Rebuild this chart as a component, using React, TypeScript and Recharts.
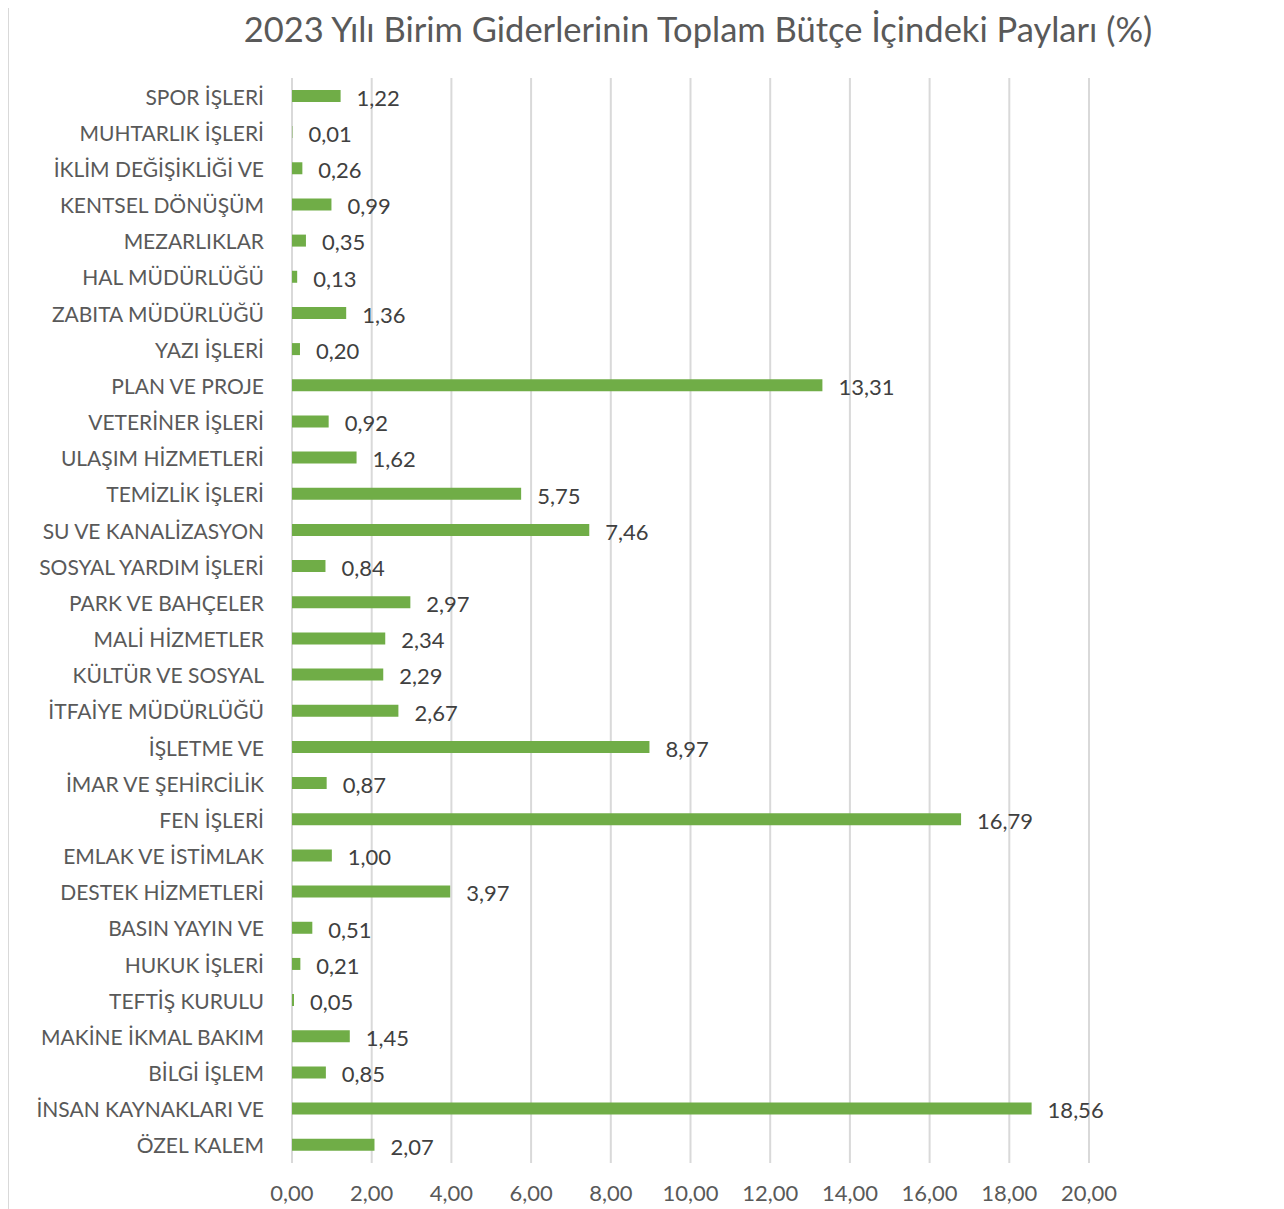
import React from "react";
import {
  BarChart, Bar, XAxis, YAxis, CartesianGrid, LabelList,
} from "recharts";

const title = "2023 Yılı Birim Giderlerinin Toplam Bütçe İçindeki Payları (%)";

const birimler = [
  "SPOR İŞLERİ",
  "MUHTARLIK İŞLERİ",
  "İKLİM DEĞİŞİKLİĞİ VE",
  "KENTSEL DÖNÜŞÜM",
  "MEZARLIKLAR",
  "HAL MÜDÜRLÜĞÜ",
  "ZABITA MÜDÜRLÜĞÜ",
  "YAZI İŞLERİ",
  "PLAN VE PROJE",
  "VETERİNER İŞLERİ",
  "ULAŞIM HİZMETLERİ",
  "TEMİZLİK İŞLERİ",
  "SU VE KANALİZASYON",
  "SOSYAL YARDIM İŞLERİ",
  "PARK VE BAHÇELER",
  "MALİ HİZMETLER",
  "KÜLTÜR VE SOSYAL",
  "İTFAİYE MÜDÜRLÜĞÜ",
  "İŞLETME VE",
  "İMAR VE ŞEHİRCİLİK",
  "FEN İŞLERİ",
  "EMLAK VE İSTİMLAK",
  "DESTEK HİZMETLERİ",
  "BASIN YAYIN VE",
  "HUKUK İŞLERİ",
  "TEFTİŞ KURULU",
  "MAKİNE İKMAL BAKIM",
  "BİLGİ İŞLEM",
  "İNSAN KAYNAKLARI VE",
  "ÖZEL KALEM",
];

const paylar = [
  1.22, 0.01, 0.26, 0.99, 0.35, 0.13, 1.36, 0.2, 13.31, 0.92,
  1.62, 5.75, 7.46, 0.84, 2.97, 2.34, 2.29, 2.67, 8.97, 0.87,
  16.79, 1.0, 3.97, 0.51, 0.21, 0.05, 1.45, 0.85, 18.56, 2.07,
];

const xTicks = [0, 2, 4, 6, 8, 10, 12, 14, 16, 18, 20];

const fmt = (v: number) => Number(v).toFixed(2).replace(".", ",");

const data = birimler.map((b, i) => ({ birim: b, pay: paylar[i] }));

const FONT = "Lato, 'Open Sans', sans-serif";

export default function App() {
  return (
    <div
      style={{
        position: "relative",
        width: 1269,
        height: 1215,
        marginTop: -6,
        border: "1px solid #d9d9d9",
        background: "#fff",
        fontFamily: FONT,
      }}
    >
      <div
        style={{
          position: "absolute",
          top: 5,
          left: 0,
          width: 1378,
          textAlign: "center",
          fontSize: 34.5,
          color: "#595959",
          whiteSpace: "nowrap",
        }}
      >
        {title}
      </div>
      <BarChart
        width={1269}
        height={1210}
        data={data}
        layout="vertical"
        barCategoryGap="33%"
        margin={{ top: 75, right: 189, left: 0, bottom: 20 }}
      >
        <CartesianGrid horizontal={false} stroke="#d9d9d9" strokeWidth={2} />
        <XAxis
          type="number"
          domain={[0, 20]}
          ticks={xTicks}
          tickFormatter={fmt}
          axisLine={false}
          tickLine={false}
          tickSize={0}
          tickMargin={22}
          height={30}
          tick={{ fontSize: 22, fill: "#595959", fontFamily: FONT }}
        />
        <YAxis
          type="category"
          dataKey="birim"
          width={283}
          axisLine={false}
          tickLine={false}
          tickSize={0}
          tickMargin={28}
          interval={0}
          tick={{ fontSize: 21, fill: "#595959", fontFamily: FONT, dy: 1 }}
        />
        <Bar dataKey="pay" fill="#70ad47" isAnimationActive={false}>
          <LabelList
            dataKey="pay"
            position="right"
            offset={16}
            dy={2}
            formatter={(v: any) => fmt(v)}
            style={{ fontSize: 22, fill: "#404040", fontFamily: FONT }}
          />
        </Bar>
      </BarChart>
    </div>
  );
}
